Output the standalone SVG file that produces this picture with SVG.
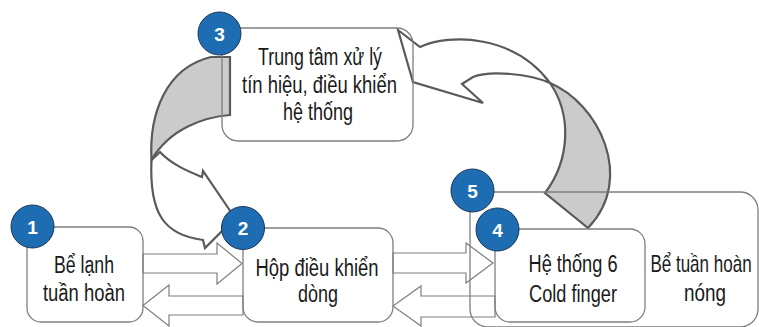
<svg xmlns="http://www.w3.org/2000/svg" width="759" height="327" viewBox="0 0 759 327">
<style>
.box{fill:none;stroke:#7f7f7f;stroke-width:1.3}
.sa{fill:#fff;stroke:#7f7f7f;stroke-width:1.2}
.cw{fill:#fff;stroke:#5a5a5a;stroke-width:2.2}
.cg{fill:#cbcbcb;stroke:#5a5a5a;stroke-width:2.2}
.num{fill:#1e6db3;stroke:#1b3555;stroke-width:1}
.nt{font-family:"Liberation Sans",Arial,sans-serif;font-weight:bold;font-size:19px;fill:#fff;text-anchor:middle}
.t{font-family:"Liberation Sans",Arial,sans-serif;font-size:23px;fill:#1a1a1a;text-anchor:middle}
</style>
<rect width="759" height="327" fill="#fff"/>
<g id="connectors">
  <!-- 3 -> 2 curved arrow -->
  <path class="cw" d="M151.5,160 C149,215 165,235 203,240 L205,248 L235,218 L203,171 L202,177 C190,172 172,165 160,152 Z"/>
  <path class="cg" d="M230,57 L230,115 C205,117 170,128 151.5,160 C149,115 165,68 211,57 Z"/>
  <!-- 5 -> 3 curved arrow -->
  <path class="cw" d="M398,30 L420,47 C450,33 515,35 550,83 C530,74 490,70 473,77 L462,84 L483,103 L413,82 Z"/>
  <path class="cg" d="M550,83 C598,103 636,178 588,228 L545,193 C570,160 572,115 550,83 Z"/>
  <!-- straight arrows -->
  <polygon class="sa" points="143,254 217,254 217,243 242,263.5 217,284 217,273 143,273"/>
  <polygon class="sa" points="243,296 169,296 169,285 143,305.5 169,326 169,315 243,315"/>
  <polygon class="sa" points="393,253 466,253 466,243 493,263 466,283 466,273 393,273"/>
  <polygon class="sa" points="495,296 421,296 421,286 393,306 421,326 421,317 495,317"/>
</g>
<g id="node5">
  <rect class="box" x="470" y="192" width="288" height="135" rx="18"/>
  <text class="t" transform="translate(701,272) scale(0.74,1)" x="0" y="0">Bể tuần hoàn</text>
  <text class="t" x="705" y="301" textLength="42" lengthAdjust="spacingAndGlyphs">nóng</text>
</g>
<g id="node1">
  <rect class="box" x="27" y="227" width="116" height="95" rx="14"/>
  <text class="t" x="84" y="273" textLength="60" lengthAdjust="spacingAndGlyphs">Bể lạnh</text>
  <text class="t" x="84" y="301" textLength="82" lengthAdjust="spacingAndGlyphs">tuần hoàn</text>
  <circle class="num" cx="32.5" cy="226.5" r="21.5"/>
  <text class="nt" x="32.5" y="233.5">1</text>
</g>
<g id="node2">
  <rect class="box" x="243" y="228" width="150" height="94" rx="15"/>
  <text class="t" x="317" y="276" textLength="123" lengthAdjust="spacingAndGlyphs">Hộp điều khiển</text>
  <text class="t" x="318" y="302" textLength="40" lengthAdjust="spacingAndGlyphs">dòng</text>
  <circle class="num" cx="243" cy="228" r="21.5"/>
  <text class="nt" x="243" y="235">2</text>
</g>
<g id="node3">
  <rect class="box" x="222" y="28" width="191" height="113" rx="16"/>
  <text class="t" x="320" y="65" textLength="124" lengthAdjust="spacingAndGlyphs">Trung tâm xử lý</text>
  <text class="t" x="319.5" y="93" textLength="155" lengthAdjust="spacingAndGlyphs">tín hiệu, điều khiển</text>
  <text class="t" x="318" y="120" textLength="70" lengthAdjust="spacingAndGlyphs">hệ thống</text>
  <circle class="num" cx="219.5" cy="33.5" r="21.5"/>
  <text class="nt" x="219.5" y="40.5">3</text>
</g>
<g id="node5badge">
  <circle class="num" cx="472.5" cy="190.5" r="21.5"/>
  <text class="nt" x="472.5" y="197.5">5</text>
</g>
<g id="node4">
  <rect class="box" x="495" y="229" width="150" height="93" rx="15"/>
  <text class="t" x="573" y="272" textLength="89" lengthAdjust="spacingAndGlyphs">Hệ thống 6</text>
  <text class="t" x="573" y="302" textLength="88" lengthAdjust="spacingAndGlyphs">Cold finger</text>
  <circle class="num" cx="497.5" cy="229.5" r="21.5"/>
  <text class="nt" x="497.5" y="236.5">4</text>
</g>
</svg>
